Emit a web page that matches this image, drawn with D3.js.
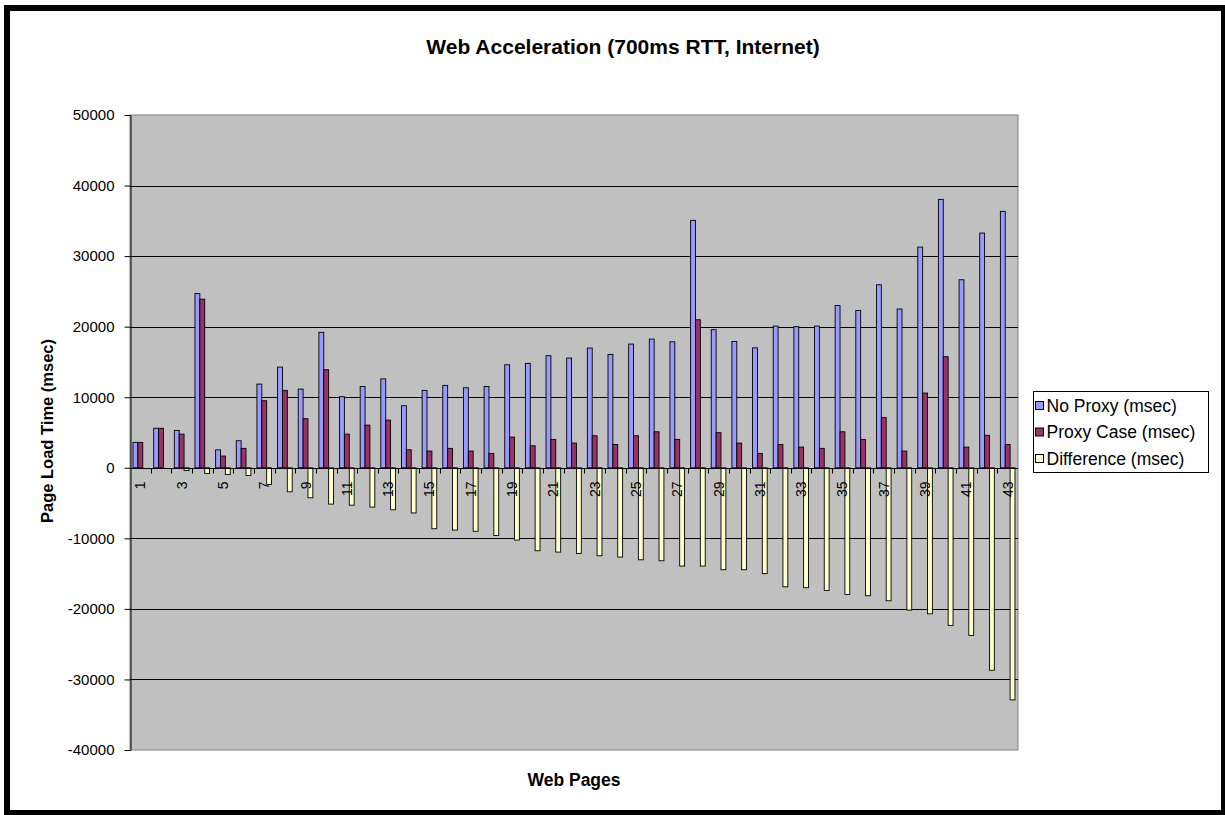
<!DOCTYPE html>
<html>
<head>
<meta charset="utf-8">
<script src="https://cdn.jsdelivr.net/npm/d3@7"></script>
<style>
  body { margin: 0; background: #fff; }
  text { font-family: "Liberation Sans", Arial, sans-serif; }
</style>
</head>
<body>
<svg width="1225" height="815"></svg>
<script>
const pages = d3.range(1, 44).map(String)

const noProxy = [3600, 5600, 5300, 24700, 2550, 3830, 11860, 14270, 11150, 19200,
  10070, 11530, 12600, 8800, 10970, 11680, 11340, 11530, 14600, 14800,
  15880, 15550, 16970, 16070, 17530, 18240, 17860, 35070, 19570, 17900,
  17000, 20080, 20000, 20080, 23000, 22300, 25940, 22500, 31280, 38040,
  26650, 33270, 36340]

const proxyCase = [3600, 5600, 4770, 23900, 1660, 2750, 9500, 10970, 6950, 13900,
  4770, 6050, 6760, 2550, 2370, 2750, 2370, 2040, 4350, 3120,
  4020, 3500, 4540, 3300, 4540, 5100, 4020, 20980, 4970, 3500,
  2040, 3300, 2930, 2750, 5100, 4020, 7140, 2370, 10590, 15740,
  2930, 4600, 3300]

const difference = [0, 0, -400, -800, -940, -1100, -2360, -3400, -4250, -5150,
  -5300, -5570, -5950, -6400, -8640, -8830, -9000, -9600, -10250, -11760,
  -11950, -12140, -12470, -12660, -13040, -13180, -13930, -13930, -14450, -14450,
  -15000, -16870, -17000, -17400, -17950, -18140, -18850, -20170, -20700, -22340,
  -23760, -28700, -32900]

const seriesNames = ["No Proxy (msec)", "Proxy Case (msec)", "Difference (msec)"]
const seriesColors = ["#9999FF", "#993366", "#FFFFCC"]
const yTicks = [50000, 40000, 30000, 20000, 10000, 0, -10000, -20000, -30000, -40000]

const svg = d3.select("svg"),
  plot = {left: 130, top: 115, right: 1018, bottom: 750}

const series = [noProxy, proxyCase, difference]

// outer frame
svg.append("rect")
  .attr("x", 7).attr("y", 8)
  .attr("width", 1217).attr("height", 805)
  .attr("fill", "#fff")
  .attr("stroke", "#000")
  .attr("stroke-width", 6)

const x = d3.scaleBand()
  .domain(pages)
  .range([plot.left, plot.right])
  .paddingInner(0)

const xs = d3.scaleBand()
  .domain(d3.range(3))
  .range([0, x.bandwidth()])
  .paddingInner(0)
  .paddingOuter(0.62)

const y = d3.scaleLinear()
  .domain([-40000, 50000])
  .range([plot.bottom, plot.top])

// plot background
svg.append("rect")
  .attr("x", plot.left).attr("y", plot.top)
  .attr("width", plot.right - plot.left).attr("height", plot.bottom - plot.top)
  .attr("fill", "#C0C0C0")
  .attr("stroke", "#808080")
  .attr("stroke-width", 1)

// gridlines
svg.append("g")
  .selectAll("line")
  .data(yTicks.filter(d => d !== 50000 && d !== -40000))
  .enter()
  .append("line")
  .attr("x1", plot.left).attr("x2", plot.right)
  .attr("y1", d => Math.round(y(d)) + 0.5).attr("y2", d => Math.round(y(d)) + 0.5)
  .attr("stroke", "#000")

// bars
const groups = svg.append("g")
  .selectAll("g")
  .data(pages)
  .enter()
  .append("g")
  .attr("transform", d => `translate(${x(d)},0)`)

groups.selectAll("rect")
  .data((d, i) => series.map((s, k) => ({k: k, v: s[i]})))
  .enter()
  .append("rect")
  .attr("x", d => xs(d.k))
  .attr("width", xs.bandwidth())
  .attr("y", d => y(Math.max(0, d.v)))
  .attr("height", d => Math.abs(y(d.v) - y(0)))
  .attr("fill", d => seriesColors[d.k])
  .attr("stroke", "#000")
  .attr("stroke-width", 0.9)

// y axis
const yAxis = svg.append("g")
  .attr("transform", `translate(${plot.left + 0.5},0)`)
  .call(d3.axisLeft(y).tickValues(yTicks).tickSize(6).tickSizeOuter(0).tickPadding(10)
    .tickFormat(d => String(d)))
yAxis.select(".domain").attr("stroke", "#000")
yAxis.selectAll("text").attr("font-size", 15).attr("fill", "#000")
  .style("font-family", "'Liberation Sans', Arial, sans-serif")

// x axis on zero line
const xAxis = svg.append("g")
  .attr("transform", `translate(0,${Math.round(y(0)) + 0.5})`)
xAxis.append("line")
  .attr("x1", plot.left).attr("x2", plot.right)
  .attr("stroke", "#000")
xAxis.selectAll(".tk")
  .data(pages.slice(1))
  .enter()
  .append("line")
  .attr("class", "tk")
  .attr("x1", d => Math.round(x(d)) + 0.5).attr("x2", d => Math.round(x(d)) + 0.5)
  .attr("y1", 0).attr("y2", 5)
  .attr("stroke", "#000")
xAxis.selectAll(".lbl")
  .data(pages.filter((d, i) => i % 2 === 0))
  .enter()
  .append("text")
  .attr("class", "lbl")
  .attr("transform", d => `translate(${x(d) + x.bandwidth() / 2 + 5},${13}) rotate(-90)`)
  .attr("text-anchor", "end")
  .attr("font-size", 14)
  .text(d => d)

// titles
svg.append("text")
  .attr("x", 623).attr("y", 54)
  .attr("text-anchor", "middle")
  .attr("font-size", 21)
  .attr("font-weight", "bold")
  .text("Web Acceleration (700ms RTT, Internet)")

svg.append("text")
  .attr("x", 574).attr("y", 786)
  .attr("text-anchor", "middle")
  .attr("font-size", 17.5)
  .attr("font-weight", "bold")
  .text("Web Pages")

svg.append("text")
  .attr("transform", "translate(53,431) rotate(-90)")
  .attr("text-anchor", "middle")
  .attr("font-size", 16.5)
  .attr("font-weight", "bold")
  .text("Page Load Time (msec)")

// legend
const legend = svg.append("g").attr("transform", "translate(1033.5,391.5)")
legend.append("rect")
  .attr("width", 175).attr("height", 81)
  .attr("fill", "#fff").attr("stroke", "#000")

const items = legend.selectAll(".item")
  .data(seriesNames)
  .enter()
  .append("g")
  .attr("class", "item")
  .attr("transform", (d, i) => `translate(2,${15 + i * 26.5})`)
items.append("rect")
  .attr("x", 0).attr("y", -5)
  .attr("width", 8).attr("height", 8)
  .attr("fill", (d, i) => seriesColors[i])
  .attr("stroke", "#000")
items.append("text")
  .attr("x", 11).attr("y", 5)
  .attr("font-size", 17.5)
  .text(d => d)
</script>
</body>
</html>
